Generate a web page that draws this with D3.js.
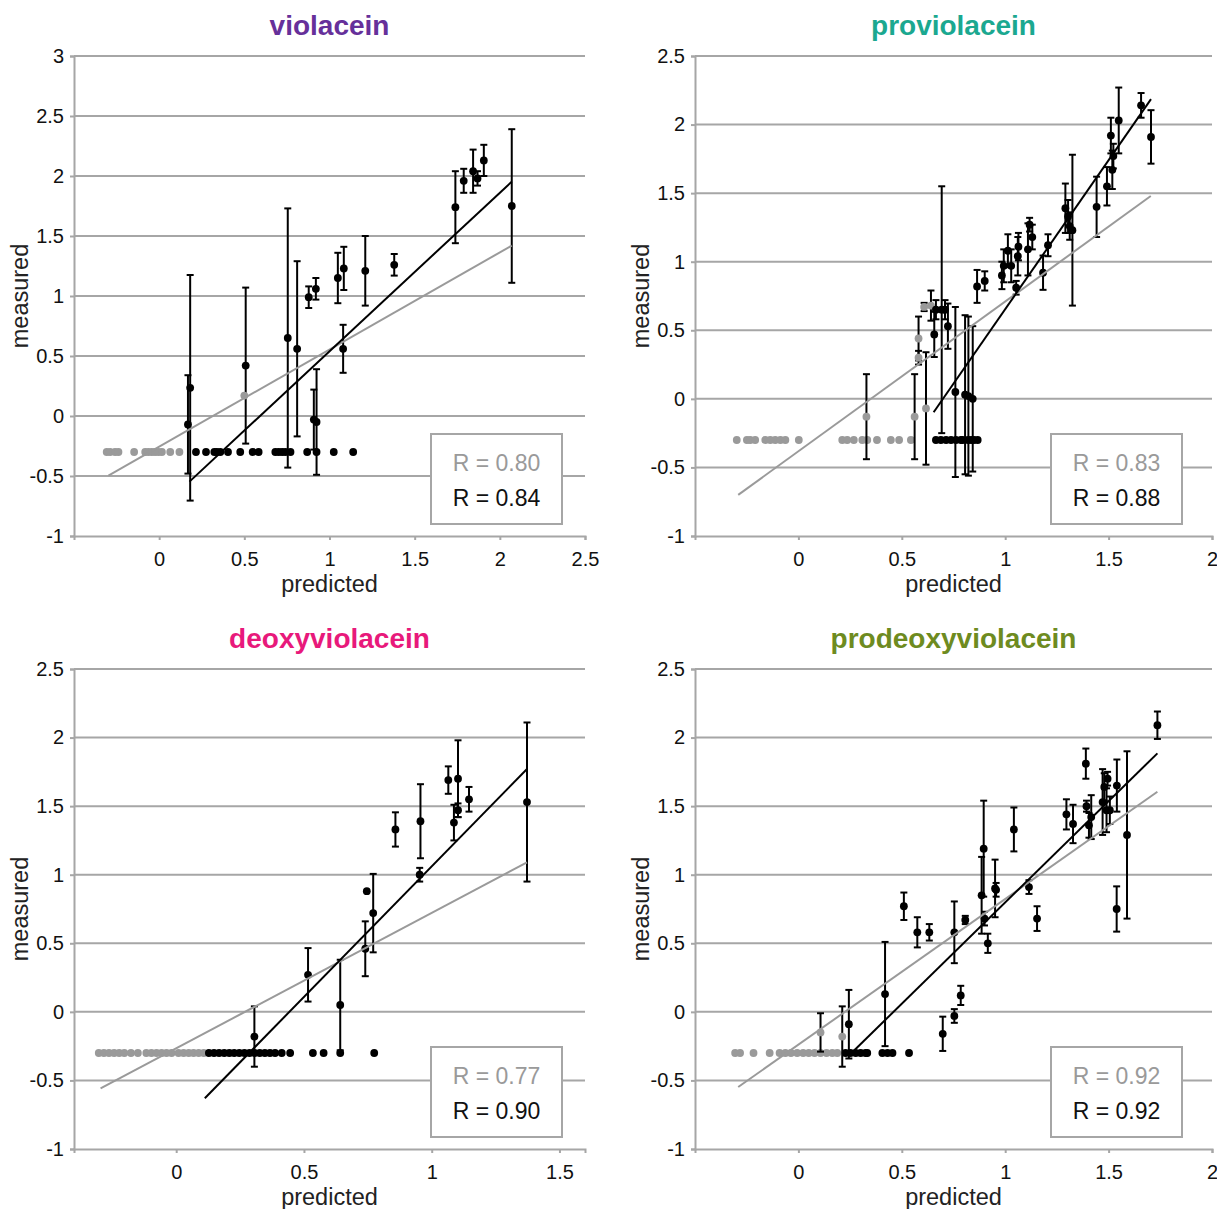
<!DOCTYPE html>
<html>
<head>
<meta charset="utf-8">
<script src="https://cdn.jsdelivr.net/npm/d3@7"></script>
<style>
  body { margin: 0; background: #fff; }
  svg { display: block; font-family: "Liberation Sans", Arial, Helvetica, sans-serif; }
</style>
</head>
<body>
<svg id="chart" width="1217" height="1209"></svg>
<script>
// not-detected samples are plotted at this measured level
const ND = -0.3

const titles = ["violacein", "proviolacein", "deoxyviolacein", "prodeoxyviolacein"]
const titleColors = ["#66309a", "#1ba890", "#e8197b", "#6e8b1f"]
const rGray = ["0.80", "0.83", "0.77", "0.92"]
const rBlack = ["0.84", "0.88", "0.90", "0.92"]

const xDomains = [[-0.5, 2.5], [-0.5, 2], [-0.4, 1.6], [-0.5, 2]]
const yDomains = [[-1, 3], [-1, 2.5], [-1, 2.5], [-1, 2.5]]
const xTicks = [[0, 0.5, 1, 1.5, 2, 2.5], [0, 0.5, 1, 1.5, 2], [0, 0.5, 1, 1.5], [0, 0.5, 1, 1.5, 2]]
const yTicks = [[-1, -0.5, 0, 0.5, 1, 1.5, 2, 2.5, 3], [-1, -0.5, 0, 0.5, 1, 1.5, 2, 2.5],
                [-1, -0.5, 0, 0.5, 1, 1.5, 2, 2.5], [-1, -0.5, 0, 0.5, 1, 1.5, 2, 2.5]]

// ---- violacein ----
const vioGrayND = [-0.308, -0.288, -0.259, -0.239, -0.147, -0.082, -0.063, -0.043, -0.024, -0.004, 0.016, 0.065, 0.119]
const vioGray = [[0.50, 0.17, 0]]
const vioBlackND = [0.216, 0.275, 0.324, 0.339, 0.359, 0.404, 0.476, 0.549, 0.584, 0.682, 0.702, 0.722, 0.741, 0.771, 0.869, 0.924, 1.025, 1.139]
const vioBlack = [[0.169, -0.07, 0.41], [0.182, 0.235, 0.94], [0.508, 0.42, 0.65], [0.755, 0.65, 1.08], [0.81, 0.56, 0.73],
  [0.878, 0.99, 0.09], [0.92, 1.06, 0.09], [0.908, -0.03, 0.25], [0.924, -0.05, 0.44], [1.049, 1.15, 0.21],
  [1.084, 1.23, 0.18], [1.08, 0.56, 0.2], [1.21, 1.21, 0.29], [1.38, 1.26, 0.09], [1.739, 1.74, 0.30],
  [1.788, 1.96, 0.10], [1.843, 2.04, 0.18], [1.869, 1.98, 0.06], [1.906, 2.13, 0.13], [2.07, 1.75, 0.64]]
const vioGrayFit = [-0.298, -0.497, 2.07, 1.42]
const vioBlackFit = [0.178, -0.547, 2.07, 1.953]

// ---- proviolacein ----
const proGrayND = [-0.298, -0.249, -0.233, -0.209, -0.16, -0.136, -0.112, -0.087, -0.063, 0.002, 0.212, 0.236, 0.268, 0.309, 0.333, 0.38, 0.447, 0.487, 0.544]
const proGray = [[0.329, -0.13, 0.31], [0.562, -0.13, 0.31], [0.617, -0.07, 0.41], [0.581, 0.44, 0.16], [0.581, 0.30, 0.05],
  [0.608, 0.67, 0.03], [0.641, 0.68, 0.11]]
const proBlackND = [0.665, 0.689, 0.714, 0.738, 0.762, 0.786, 0.794, 0.82, 0.835, 0.849, 0.867]
const proBlack = [[0.657, 0.47, 0.165], [0.665, 0.65, 0.07], [0.693, 0.65, 0.9], [0.709, 0.65, 0.07], [0.723, 0.53, 0.165],
  [0.759, 0.05, 0.62], [0.806, 0.03, 0.58], [0.822, 0.02, 0.58], [0.843, 0.0, 0.53], [0.864, 0.82, 0.12],
  [0.901, 0.86, 0.07], [0.984, 0.90, 0.1], [0.993, 0.97, 0.12], [1.013, 1.08, 0.12], [1.029, 0.97, 0.12],
  [1.053, 0.81, 0.05], [1.061, 1.04, 0.14], [1.064, 1.11, 0.1], [1.11, 1.09, 0.19], [1.118, 1.27, 0.05],
  [1.131, 1.18, 0.09], [1.183, 0.92, 0.125], [1.207, 1.12, 0.08], [1.291, 1.39, 0.18], [1.304, 1.33, 0.12],
  [1.312, 1.26, 0.1], [1.325, 1.23, 0.55], [1.442, 1.40, 0.22], [1.492, 1.55, 0.14], [1.511, 1.92, 0.13],
  [1.518, 1.67, 0.14], [1.523, 1.77, 0.09], [1.549, 2.03, 0.24], [1.657, 2.14, 0.09], [1.705, 1.91, 0.195]]
const proGrayFit = [-0.291, -0.70, 1.704, 1.479]
const proBlackFit = [0.654, -0.098, 1.705, 2.186]

// ---- deoxyviolacein ----
const deoGrayND = [-0.303, -0.283, -0.263, -0.243, -0.223, -0.203, -0.177, -0.15, -0.117, -0.097, -0.077, -0.057,
  -0.038, -0.018, 0.009, 0.029, 0.049, 0.068, 0.088, 0.108]
const deoGray = []
const deoBlackND = [0.128, 0.148, 0.168, 0.188, 0.208, 0.227, 0.247, 0.267, 0.287, 0.307, 0.327, 0.347, 0.367, 0.387,
  0.413, 0.446, 0.535, 0.577, 0.642, 0.775]
const deoBlack = [[0.306, -0.18, 0.22], [0.516, 0.27, 0.195], [0.642, 0.05, 0.33], [0.74, 0.46, 0.2], [0.746, 0.88, 0],
  [0.771, 0.72, 0.286], [0.858, 1.33, 0.125], [0.956, 1.39, 0.27], [0.953, 1.0, 0.05], [1.065, 1.69, 0.1],
  [1.103, 1.70, 0.28], [1.087, 1.38, 0.13], [1.103, 1.47, 0.05], [1.146, 1.55, 0.09], [1.373, 1.53, 0.58]]
const deoGrayFit = [-0.296, -0.558, 1.373, 1.09]
const deoBlackFit = [0.112, -0.63, 1.373, 1.771]

// ---- prodeoxyviolacein ----
const pdvGrayND = [-0.306, -0.282, -0.217, -0.139, -0.091, -0.063, -0.036, -0.006, 0.023, 0.05, 0.078, 0.107, 0.136, 0.164, 0.188]
const pdvGray = [[0.107, -0.15, 0.14], [0.212, -0.18, 0.22]]
const pdvBlackND = [0.228, 0.252, 0.277, 0.301, 0.325, 0.333, 0.406, 0.431, 0.455, 0.535]
const pdvBlack = [[0.244, -0.09, 0.25], [0.419, 0.13, 0.38], [0.51, 0.77, 0.1], [0.575, 0.58, 0.11], [0.633, 0.58, 0.06],
  [0.698, -0.16, 0.125], [0.754, 0.58, 0.225], [0.754, -0.03, 0.05], [0.785, 0.12, 0.07], [0.807, 0.67, 0.03],
  [0.896, 1.19, 0.35], [0.886, 0.85, 0.28], [0.9, 0.68, 0.05], [0.916, 0.50, 0.07], [0.951, 0.90, 0.21],
  [0.956, 0.89, 0.05], [1.042, 1.33, 0.16], [1.115, 0.91, 0.05], [1.154, 0.68, 0.09], [1.296, 1.44, 0.11],
  [1.328, 1.37, 0.14], [1.39, 1.81, 0.11], [1.393, 1.50, 0.04], [1.405, 1.36, 0.09], [1.416, 1.42, 0.16],
  [1.471, 1.53, 0.24], [1.479, 1.64, 0.1], [1.49, 1.47, 0.16], [1.495, 1.70, 0.05], [1.506, 1.47, 0.1],
  [1.54, 1.65, 0.19], [1.539, 0.75, 0.165], [1.589, 1.29, 0.61], [1.736, 2.09, 0.1]]
const pdvGrayFit = [-0.291, -0.548, 1.736, 1.605]
const pdvBlackFit = [0.252, -0.307, 1.736, 1.885]

const grayNDs = [vioGrayND, proGrayND, deoGrayND, pdvGrayND]
const grays = [vioGray, proGray, deoGray, pdvGray]
const blackNDs = [vioBlackND, proBlackND, deoBlackND, pdvBlackND]
const blacks = [vioBlack, proBlack, deoBlack, pdvBlack]
const grayFits = [vioGrayFit, proGrayFit, deoGrayFit, pdvGrayFit]
const blackFits = [vioBlackFit, proBlackFit, deoBlackFit, pdvBlackFit]

// plot area boxes (legend left edge given in px)
const boxes = [
  {left: 74, right: 585, top: 56, bottom: 536, legend: 431},
  {left: 695, right: 1212, top: 56, bottom: 536, legend: 1051},
  {left: 74, right: 585, top: 669, bottom: 1149, legend: 431},
  {left: 695, right: 1212, top: 669, bottom: 1149, legend: 1051}
]

const gridColor = "#a6a6a6"
const grayPt = "#9a9a9a"
const ptR = 3.9
const svg = d3.select("#chart")

function fmt(d) { return String(d) }

boxes.forEach(function(b, i) {
  var x = d3.scaleLinear().domain(xDomains[i]).range([b.left, b.right])
  var y = d3.scaleLinear().domain(yDomains[i]).range([b.bottom, b.top])
  var g = svg.append("g")

  // gridlines
  g.append("g").selectAll("line").data(yTicks[i].slice(1)).enter().append("line")
    .attr("x1", b.left).attr("x2", b.right)
    .attr("y1", function(d) { return y(d) }).attr("y2", function(d) { return y(d) })
    .attr("stroke", gridColor).attr("stroke-width", 2)

  // y axis
  var ya = g.append("g").attr("transform", "translate(" + b.left + ",0)")
    .call(d3.axisLeft(y).tickValues(yTicks[i]).tickSize(4).tickPadding(6).tickFormat(fmt))
  ya.select(".domain").attr("stroke", gridColor).attr("stroke-width", 2)
  ya.selectAll(".tick line").attr("stroke", gridColor).attr("stroke-width", 2)
  ya.selectAll("text").attr("font-size", 20).attr("fill", "#111").attr("font-family", null)

  // x axis
  var xa = g.append("g").attr("transform", "translate(0," + b.bottom + ")")
    .call(d3.axisBottom(x).tickValues(xTicks[i]).tickSize(4).tickPadding(12).tickFormat(fmt))
  xa.select(".domain").attr("stroke", gridColor).attr("stroke-width", 2)
  xa.selectAll(".tick line").attr("stroke", gridColor).attr("stroke-width", 2)
  xa.selectAll("text").attr("font-size", 20).attr("fill", "#111").attr("font-family", null)

  // titles
  g.append("text").attr("x", (b.left + b.right) / 2).attr("y", b.top - 21)
    .attr("text-anchor", "middle").attr("font-size", 28).attr("font-weight", "bold")
    .attr("fill", titleColors[i]).text(titles[i])
  g.append("text").attr("x", (b.left + b.right) / 2).attr("y", b.bottom + 56)
    .attr("text-anchor", "middle").attr("font-size", 23.5).attr("fill", "#222").text("predicted")
  g.append("text")
    .attr("transform", "translate(" + (b.left - 54) + "," + (b.top + b.bottom) / 2 + ") rotate(-90)")
    .attr("text-anchor", "middle").attr("dy", "0.35em").attr("font-size", 23.5).attr("fill", "#222")
    .text("measured")

  // gray (not detected) points
  g.append("g").selectAll("circle").data(grayNDs[i]).enter().append("circle")
    .attr("cx", function(d) { return x(d) }).attr("cy", y(ND)).attr("r", ptR).attr("fill", grayPt)

  // black not detected
  g.append("g").selectAll("circle").data(blackNDs[i]).enter().append("circle")
    .attr("cx", function(d) { return x(d) }).attr("cy", y(ND)).attr("r", ptR).attr("fill", "#000")

  // error bars
  var pts = grays[i].concat(blacks[i]).filter(function(d) { return d[2] > 0 })
  var eb = g.append("g").attr("stroke", "#000").attr("stroke-width", 2)
  eb.selectAll("line.v").data(pts).enter().append("line").attr("class", "v")
    .attr("x1", function(d) { return x(d[0]) }).attr("x2", function(d) { return x(d[0]) })
    .attr("y1", function(d) { return y(d[1] + d[2]) }).attr("y2", function(d) { return y(d[1] - d[2]) })
  ;[1, -1].forEach(function(s) {
    eb.selectAll("line.c" + s).data(pts).enter().append("line").attr("class", "c" + s)
      .attr("x1", function(d) { return x(d[0]) - 3.5 }).attr("x2", function(d) { return x(d[0]) + 3.5 })
      .attr("y1", function(d) { return y(d[1] + s * d[2]) }).attr("y2", function(d) { return y(d[1] + s * d[2]) })
  })

  g.append("g").selectAll("circle").data(grays[i]).enter().append("circle")
    .attr("cx", function(d) { return x(d[0]) }).attr("cy", function(d) { return y(d[1]) })
    .attr("r", ptR).attr("fill", grayPt)
  g.append("g").selectAll("circle").data(blacks[i]).enter().append("circle")
    .attr("cx", function(d) { return x(d[0]) }).attr("cy", function(d) { return y(d[1]) })
    .attr("r", ptR).attr("fill", "#000")

  // trend lines
  var line = d3.line().x(function(d) { return x(d[0]) }).y(function(d) { return y(d[1]) })
  var gf = grayFits[i], bf = blackFits[i]
  g.append("path").datum([[gf[0], gf[1]], [gf[2], gf[3]]]).attr("d", line)
    .attr("stroke", "#9a9a9a").attr("stroke-width", 2).attr("fill", "none")
  g.append("path").datum([[bf[0], bf[1]], [bf[2], bf[3]]]).attr("d", line)
    .attr("stroke", "#000").attr("stroke-width", 2).attr("fill", "none")

  // R legend box
  var lx = b.legend, ly = b.bottom - 102
  g.append("rect").attr("x", lx).attr("y", ly).attr("width", 131).attr("height", 90)
    .attr("fill", "#fff").attr("stroke", gridColor).attr("stroke-width", 2)
  g.append("text").attr("x", lx + 65.5).attr("y", ly + 37).attr("text-anchor", "middle")
    .attr("font-size", 23).attr("fill", "#9a9a9a").text("R = " + rGray[i])
  g.append("text").attr("x", lx + 65.5).attr("y", ly + 72).attr("text-anchor", "middle")
    .attr("font-size", 23).attr("fill", "#111").text("R = " + rBlack[i])
})
</script>
</body>
</html>
